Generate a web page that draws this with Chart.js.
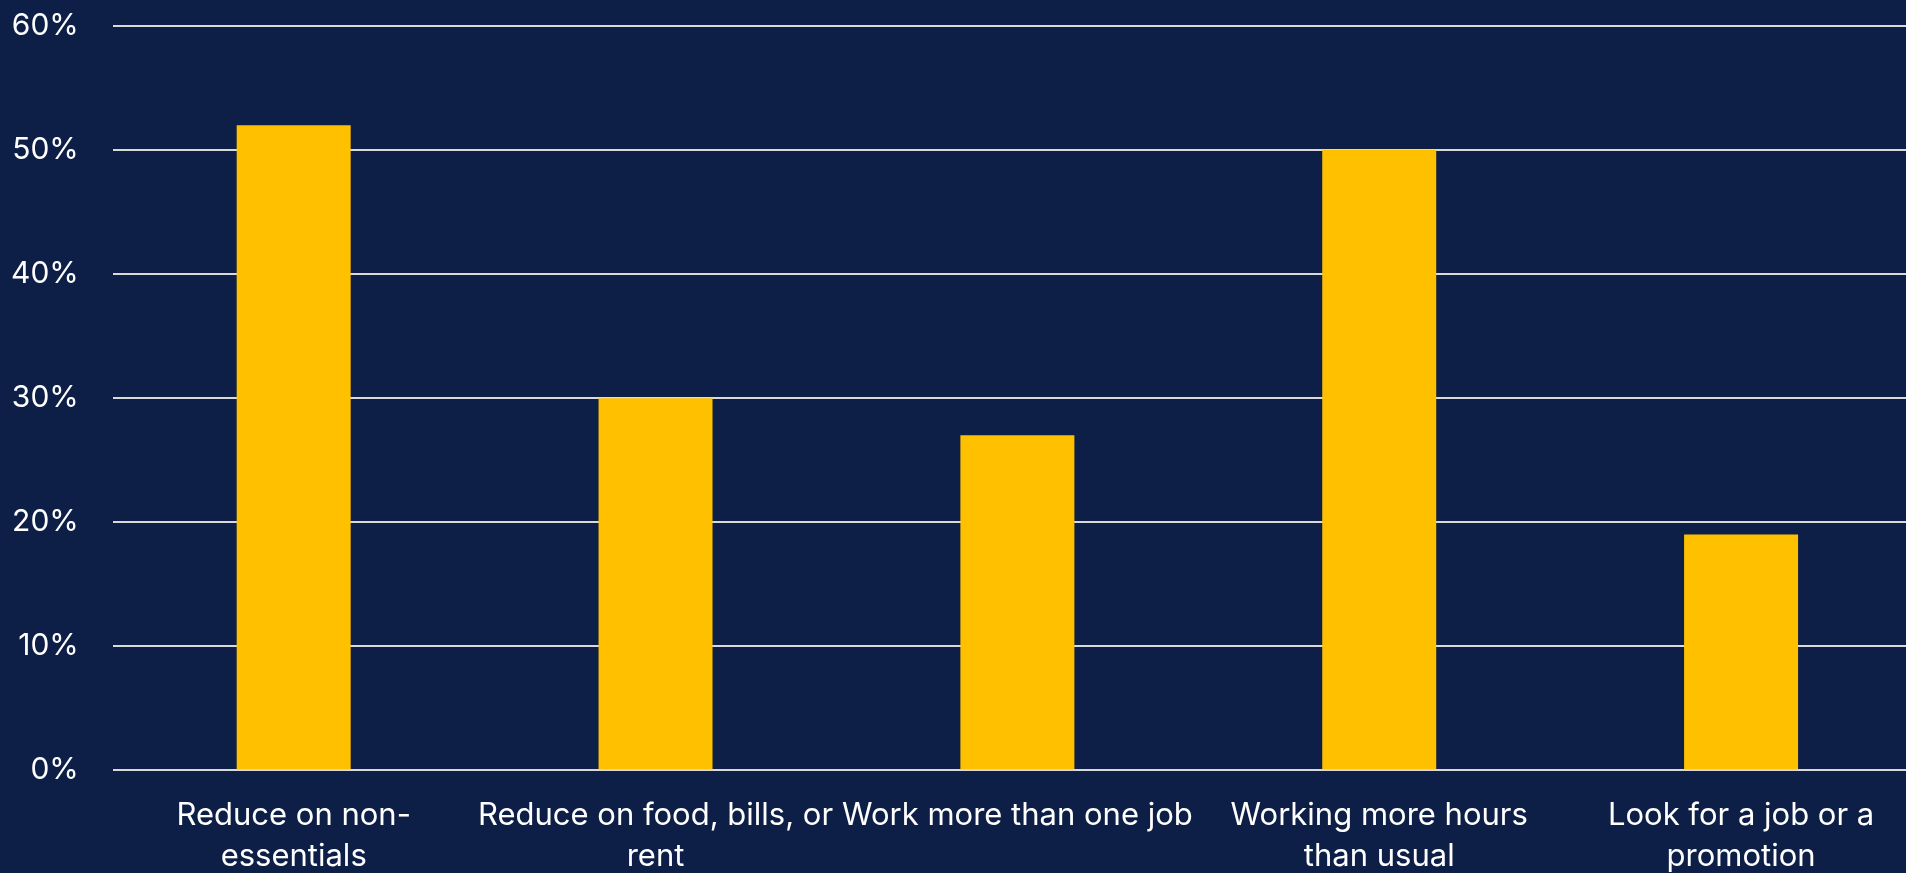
<!DOCTYPE html>
<html>
<head>
<meta charset="utf-8">
<script src="https://cdn.jsdelivr.net/npm/chart.js@4.4.1/dist/chart.umd.min.js"></script>
<style>
  html, body { margin: 0; padding: 0; background: #0e1f47; overflow: hidden; }
  #wrap { width: 1925px; height: 880px; }
</style>
</head>
<body>
<div id="wrap"><canvas id="barChart"></canvas></div>
<script>
// categories, split into lines the way the picture wraps them
const categories = [
    ['Reduce on non-', 'essentials'],
    ['Reduce on food, bills, or', 'rent'],
    'Work more than one job',
    ['Working more hours', 'than usual'],
    ['Look for a job or a', 'promotion']
];
// share of people, in percent
const shares = [52, 30, 27, 50, 19];
const yTicks = [0, 10, 20, 30, 40, 50, 60];

const ctx = document.getElementById('barChart').getContext('2d');
const myBarChart = new Chart(ctx, {
    type: 'bar',
    data: {
        labels: categories,
        datasets: [{
            data: shares,
            backgroundColor: '#ffc000',
            borderWidth: 0,
            categoryPercentage: 1,
            barPercentage: 0.315
        }]
    },
    options: {
        responsive: true,
        maintainAspectRatio: false,
        animation: false,
        layout: { padding: { top: 26, left: 11, right: 3, bottom: 2 } },
        plugins: { legend: { display: false }, tooltip: { enabled: false } },
        scales: {
            x: {
                // invisible tick marks make the gap under the axis
                grid: { drawOnChartArea: false, drawTicks: true, tickLength: 24, tickColor: 'transparent' },
                border: { display: false },
                ticks: {
                    color: '#ffffff',
                    font: { family: 'Inter', size: 31, lineHeight: 1.35 },
                    padding: 0,
                    maxRotation: 0,
                    autoSkip: false
                }
            },
            y: {
                min: 0,
                max: 60,
                afterBuildTicks: axis => { axis.ticks = yTicks.map(v => ({ value: v })); },
                grid: { color: '#d9d9d9', lineWidth: 2, drawTicks: true, tickLength: 34, tickColor: 'transparent' },
                border: { display: false },
                ticks: {
                    color: '#ffffff',
                    font: { family: 'Inter', size: 30 },
                    padding: 0,
                    callback: v => v + '%'
                }
            }
        }
    }
});
</script>
</body>
</html>
